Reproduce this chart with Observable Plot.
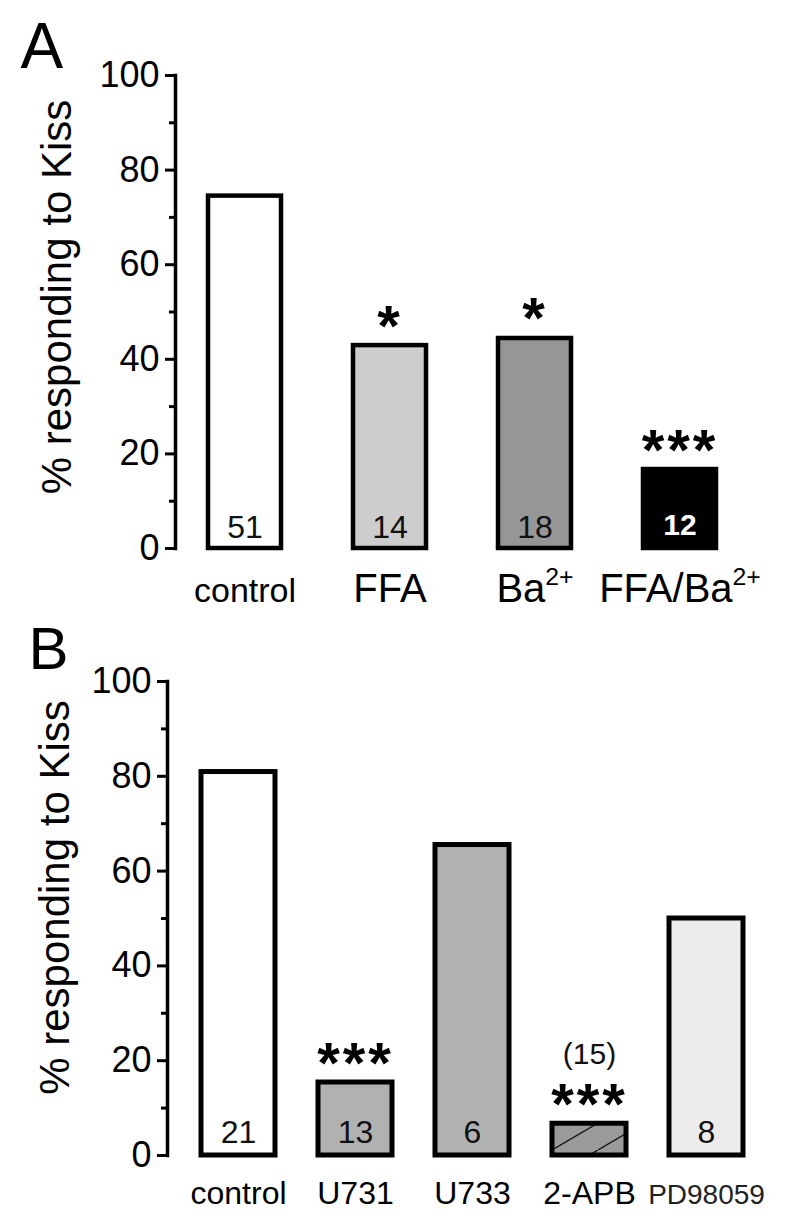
<!DOCTYPE html>
<html>
<head>
<meta charset="utf-8">
<script src="https://cdn.jsdelivr.net/npm/d3@7"></script>
<script src="https://cdn.jsdelivr.net/npm/@observablehq/plot@0.6"></script>
<style>
  html, body { margin: 0; padding: 0; background: #ffffff; }
  #chart { width: 800px; }
  #chart svg { display: block; }
</style>
</head>
<body>
<div id="chart"></div>
<script>
// ---------- Panel A data ----------
const categoriesA = ["control", "FFA", "Ba^2+", "FFA/Ba^2+"];
const valuesA = [74.5, 42.9, 44.4, 16.7];
const countsA = [51, 14, 18, 12];
const signifA = ["", "*", "*", "***"];

// ---------- Panel B data ----------
const categoriesB = ["control", "U731", "U733", "2-APB", "PD98059"];
const valuesB = [80.9, 15.4, 65.5, 6.7, 50];
const countsB = [21, 13, 6, 15, 8];
const signifB = ["", "***", "", "***", ""];

// ---------- Axis ticks ----------
const yTicks = [0, 20, 40, 60, 80, 100];
const yMinorTicks = [10, 30, 50, 70, 90];
const yLabel = "% responding to Kiss";
const panelLetters = ["A", "B"];

// ---------- Styles ----------
const fillA = {"control": "#ffffff", "FFA": "#cdcdcd", "Ba^2+": "#969696", "FFA/Ba^2+": "#000000"};
const fillB = {"control": "#ffffff", "U731": "#b1b1b1", "U733": "#b1b1b1", "2-APB": "url(#hatchAPB)", "PD98059": "#ececec"};
const labelSizeB = {"control": 32, "U731": 32, "U733": 32, "2-APB": 32, "PD98059": 28};
const font = "'Liberation Sans', Arial, Helvetica, sans-serif";

const dataA = categoriesA.map((c, i) => ({cat: c, v: valuesA[i], n: countsA[i], sig: signifA[i]}));
const dataB = categoriesB.map((c, i) => ({cat: c, v: valuesB[i], n: countsB[i], sig: signifB[i]}));

function finish(svg) {
  d3.select(svg).selectAll("text").each(function () {
    const t = this.textContent;
    if (t.includes("^")) {
      const [base, sup] = t.split("^");
      const sel = d3.select(this);
      sel.text(null);
      sel.append("tspan").text(base);
      sel.append("tspan").attr("dy", -17).attr("font-size", "62%").text(sup);
    }
    if (/^\*+$/.test(t)) d3.select(this).attr("letter-spacing", 3);
  });
  return svg;
}

const plotA = Plot.plot({
  width: 800, height: 610,
  marginLeft: 175, marginRight: 51, marginTop: 75, marginBottom: 62,
  style: {fontFamily: font, background: "white", color: "black", overflow: "visible"},
  x: {domain: categoriesA, paddingInner: 0.494, paddingOuter: 0.222, axis: null},
  y: {domain: [0, 100]},
  color: {type: "identity"},
  marks: [
    Plot.barY(dataA, {x: "cat", y: "v", fill: d => fillA[d.cat], stroke: "black", strokeWidth: 4.5}),
    Plot.frame({anchor: "left", strokeWidth: 3.5}),
    Plot.axisY(yMinorTicks, {tickSize: 6, strokeWidth: 3, tickFormat: () => "", label: null}),
    Plot.axisY(yTicks, {tickSize: 10, tickPadding: 6, strokeWidth: 3, fontSize: 36, label: null}),
    Plot.text(dataA.filter(d => fillA[d.cat] !== "#000000"), {x: "cat", y: () => 0, text: d => String(d.n), dy: -11, lineAnchor: "bottom", fontSize: 32, fill: "#111"}),
    Plot.text(dataA.filter(d => fillA[d.cat] === "#000000"), {x: "cat", y: () => 0, text: d => String(d.n), dy: -14, lineAnchor: "bottom", fontSize: 30, fontWeight: "bold", fill: "white"}),
    Plot.text(dataA, {x: "cat", y: "v", text: "sig", dy: 0, lineAnchor: "bottom", fontSize: 58, fontWeight: "bold"}),
    Plot.text(dataA, {x: "cat", text: "cat", frameAnchor: "bottom", dy: 53, lineAnchor: "bottom", fontSize: d => d.cat === "control" ? 34 : 40}),
    Plot.text([yLabel], {text: d => d, frameAnchor: "left", textAnchor: "middle", rotate: -90, dx: -105, dy: -15, lineAnchor: "bottom", fontSize: 42}),
    Plot.text([panelLetters[0]], {text: d => d, frameAnchor: "top-left", textAnchor: "start", lineAnchor: "bottom", dx: -155, dy: -8, fontSize: 64})
  ]
});

const plotB = Plot.plot({
  width: 800, height: 619,
  marginLeft: 167, marginRight: 24, marginTop: 71, marginBottom: 74,
  style: {fontFamily: font, background: "white", color: "black", overflow: "visible"},
  x: {domain: categoriesB, paddingInner: 0.368, paddingOuter: 0.286, axis: null},
  y: {domain: [0, 100]},
  color: {type: "identity"},
  marks: [
    Plot.barY(dataB, {x: "cat", y: "v", fill: d => fillB[d.cat], stroke: "black", strokeWidth: 5}),
    Plot.frame({anchor: "left", strokeWidth: 3.5}),
    Plot.axisY(yMinorTicks, {tickSize: 6, strokeWidth: 3, tickFormat: () => "", label: null}),
    Plot.axisY(yTicks, {tickSize: 10, tickPadding: 6, strokeWidth: 3, fontSize: 36, label: null}),
    Plot.text(dataB.filter(d => d.v >= 10), {x: "cat", y: () => 0, text: d => String(d.n), dy: -13, lineAnchor: "bottom", fontSize: 32, fill: "#111"}),
    Plot.text(dataB.filter(d => d.v < 10), {x: "cat", y: "v", text: d => `(${d.n})`, dy: -60, lineAnchor: "bottom", fontSize: 30, fill: "#111"}),
    Plot.text(dataB, {x: "cat", y: "v", text: "sig", dy: 0, lineAnchor: "bottom", fontSize: 58, fontWeight: "bold"}),
    Plot.text(dataB, {x: "cat", text: "cat", frameAnchor: "bottom", dy: 48, lineAnchor: "bottom", fontSize: d => labelSizeB[d.cat], fill: d => d.cat === "PD98059" ? "#222" : "black"}),
    Plot.text([yLabel], {text: d => d, frameAnchor: "left", textAnchor: "middle", rotate: -90, dx: -99, dy: -21, lineAnchor: "bottom", fontSize: 42}),
    Plot.text([panelLetters[1]], {text: d => d, frameAnchor: "top-left", textAnchor: "start", lineAnchor: "bottom", dx: -139, dy: -13, fontSize: 60})
  ]
});

d3.select(plotB).insert("defs", ":first-child").html(
  '<pattern id="hatchAPB" patternUnits="userSpaceOnUse" width="46" height="27">' +
  '<rect width="46" height="27" fill="#9a9a9a"/>' +
  '<path d="M-1,27.6 L47,-0.6" stroke="#111" stroke-width="1.3" fill="none"/>' +
  '</pattern>'
);

const chart = document.getElementById("chart");
chart.appendChild(finish(plotA));
chart.appendChild(finish(plotB));
</script>
</body>
</html>
